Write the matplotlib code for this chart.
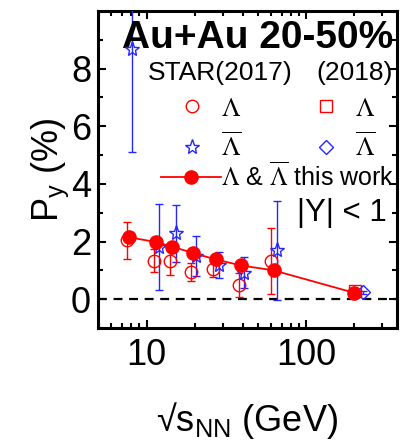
import numpy as np
import matplotlib
matplotlib.use('Agg')
import matplotlib.pyplot as plt
from matplotlib.lines import Line2D
from matplotlib.ticker import FixedLocator, NullFormatter

plt.rcParams['font.family'] = ['Liberation Sans', 'DejaVu Sans']

# collision energies (GeV)
energy = [7.7, 11.5, 14.5, 19.6, 27, 39, 62.4]

# STAR 2017, Lambda and anti-Lambda polarization (%)
lam_py = [2.04, 1.34, 1.32, 0.95, 1.05, 0.50, 1.33]
lam_err = [0.63, 0.40, 0.48, 0.32, 0.28, 0.41, 1.14]
alam_py = [8.67, 1.80, 2.28, 1.51, 1.19, 0.92, 1.69]
alam_err = [3.57, 1.49, 1.00, 0.69, 0.45, 0.54, 1.72]

# STAR 2018 at 200 GeV
e2018 = [200]
lam18_py = [0.277]
lam18_err = [0.040]
alam18_py = [0.240]
alam18_err = [0.045]

# this work
work_e = [7.7, 11.5, 14.5, 19.6, 27, 39, 62.4, 200]
work_py = [2.15, 1.98, 1.82, 1.60, 1.38, 1.17, 1.00, 0.22]

red = '#ff0000'
blue = '#2626ff'

fig = plt.figure(figsize=(4.05, 4.46), dpi=100)
ax = fig.add_axes([0.242, 0.2646, 0.738, 0.7107])

e = np.array(energy)
ax.axhline(0, color='k', ls=(0, (4, 3)), lw=1.6, zorder=1)

ax.errorbar(e * 0.97, lam_py, yerr=lam_err, fmt='o', mfc='none', mec=red, ms=9,
            mew=1.0, ecolor=red, elinewidth=1.0, capsize=3, capthick=1.0, zorder=3)
ax.errorbar(e * 1.045, alam_py, yerr=alam_err, fmt='*', mfc='none', mec=blue, ms=11,
            mew=1.0, ecolor=blue, elinewidth=1.0, capsize=3, capthick=1.0, zorder=3)
ax.errorbar(np.array(e2018) * 1.01, lam18_py, yerr=lam18_err, fmt='s', mfc='none', mec=red,
            ms=8, mew=1.0, ecolor=red, elinewidth=1.0, capsize=3, zorder=3)
ax.errorbar(np.array(e2018) * 1.14, alam18_py, yerr=alam18_err, fmt='D', mfc='none', mec=blue,
            ms=7, mew=1.0, ecolor=blue, elinewidth=1.0, capsize=3, zorder=3)
ax.plot(work_e, work_py, '-o', color=red, ms=9.5, lw=1.3, zorder=4)

ax.set_xscale('log')
ax.set_xlim(4.95, 370)
ax.set_ylim(-1, 10)
ax.set_xticks([10, 100])
ax.set_xticklabels(['10', '100'])
ax.xaxis.set_minor_locator(FixedLocator([5, 6, 7, 8, 9, 20, 30, 40, 50, 60, 70, 80, 90, 200, 300]))
ax.xaxis.set_minor_formatter(NullFormatter())
ax.set_yticks([0, 2, 4, 6, 8])
ax.yaxis.set_minor_locator(FixedLocator([-1, 1, 3, 5, 7, 9]))

ax.tick_params(which='both', direction='in', top=True, right=True, labelsize=26, width=1.5)
ax.tick_params(which='major', length=6)
ax.tick_params(which='minor', length=3.5)
ax.tick_params(axis='x', pad=7)
ax.tick_params(axis='y', pad=5)
for s in ax.spines.values():
    s.set_linewidth(2.2)

ax.set_ylabel(r'P$_\mathregular{y}$ (%)', fontsize=26, labelpad=0)
ax.set_xlabel(r'√s$_\mathregular{NN}$ (GeV)', fontsize=26, labelpad=20)

ax.text(0.987, 0.883, 'Au+Au 20-50%', transform=ax.transAxes, ha='right', va='baseline',
        fontsize=28, fontweight='bold')
ax.text(0.167, 0.782, 'STAR(2017)', transform=ax.transAxes, ha='left', va='baseline', fontsize=19)
ax.text(0.987, 0.782, '(2018)', transform=ax.transAxes, ha='right', va='baseline', fontsize=19)
ax.text(0.666, 0.363, '|Y| < 1', transform=ax.transAxes, ha='left', va='center', fontsize=22.5)

# marker keys for the STAR data
h_lam = Line2D([], [], ls='none', marker='o', mfc='none', mec=red, ms=9, mew=1.0)
h_alam = Line2D([], [], ls='none', marker='*', mfc='none', mec=blue, ms=11, mew=1.0)
h_lam18 = Line2D([], [], ls='none', marker='s', mfc='none', mec=red, ms=8, mew=1.0)
h_alam18 = Line2D([], [], ls='none', marker='D', mfc='none', mec=blue, ms=7, mew=1.0)
leg1 = ax.legend([h_lam, h_alam, h_lam18, h_alam18],
                 [r'$\Lambda$', r'$\overline{\Lambda}$', r'$\Lambda$', r'$\overline{\Lambda}$'],
                 ncol=2, frameon=False, fontsize=19, handlelength=1.0, handletextpad=0.6,
                 columnspacing=2.7, labelspacing=0.45, loc='center left',
                 bbox_to_anchor=(0.27, 0.628), borderpad=0, borderaxespad=0)
for t in leg1.get_texts():
    t.set_math_fontfamily('stix')
ax.add_artist(leg1)

h_work = Line2D([], [], color=red, marker='o', ms=9.5, lw=1.3)
leg2 = ax.legend([h_work], [r'$\Lambda$ & $\overline{\Lambda}$ this work'], frameon=False,
                 fontsize=18, handlelength=2.4, handletextpad=0.0, loc='center left',
                 bbox_to_anchor=(0.21, 0.479), borderpad=0, borderaxespad=0)
for t in leg2.get_texts():
    t.set_math_fontfamily('stix')

plt.savefig('out.png', dpi=100)
